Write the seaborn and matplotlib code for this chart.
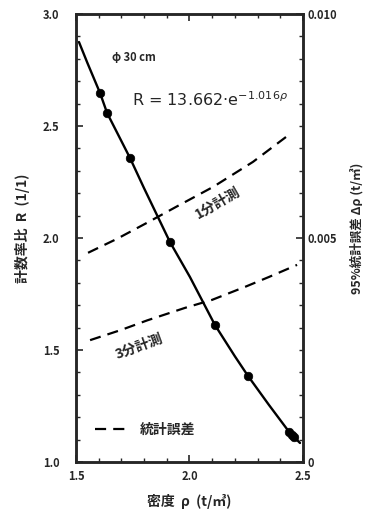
import numpy as np
import pandas as pd
import seaborn as sns
import matplotlib.pyplot as plt
from matplotlib.ticker import MultipleLocator
from matplotlib.lines import Line2D

# measured points: density rho (t/m3) vs count-rate ratio R
rho_pts = [1.606, 1.637, 1.738, 1.914, 2.112, 2.258, 2.44, 2.45, 2.46]
r_pts = [2.647, 2.558, 2.357, 1.982, 1.612, 1.384, 1.135, 1.12, 1.11]

# fitted curve R = 13.662 e^{-1.016 rho}
rho_fit = [1.513, 1.55, 1.606, 1.637, 1.738, 1.80, 1.914, 2.002, 2.112, 2.20, 2.258, 2.35, 2.443, 2.487]
r_fit = [2.875, 2.782, 2.647, 2.558, 2.357, 2.222, 1.982, 1.826, 1.612, 1.472, 1.384, 1.255, 1.129, 1.085]

# 95% statistical error (right axis)
rho_err1 = [1.553, 1.68, 1.813, 1.95, 2.104, 2.28, 2.445]
err_1min = [0.00467, 0.00498, 0.00534, 0.00572, 0.00614, 0.00670, 0.00733]
rho_err3 = [1.562, 1.70, 1.813, 1.98, 2.10, 2.25, 2.35, 2.474]
err_3min = [0.00272, 0.00295, 0.00316, 0.00344, 0.00362, 0.00392, 0.00413, 0.00440]

x_ticks = [1.5, 2.0, 2.5]
y_ticks = [1.0, 1.5, 2.0, 2.5, 3.0]
y2_ticks = [0, 0.005, 0.010]
y2_labels = ['0', '0.005', '0.010']

sns.set_style('ticks')
plt.rcParams['font.family'] = ['Noto Sans CJK JP', 'DejaVu Sans']
plt.rcParams['mathtext.fontset'] = 'dejavusans'

fig = plt.figure(figsize=(3.69, 5.13), dpi=100)
ax = fig.add_axes([0.206, 0.0994, 0.615, 0.8733])
ax2 = ax.twinx()

df_fit = pd.DataFrame({'rho': rho_fit, 'R': r_fit})
df_pts = pd.DataFrame({'rho': rho_pts, 'R': r_pts})
sns.lineplot(data=df_fit, x='rho', y='R', ax=ax, color='black', lw=1.7, sort=False)
sns.scatterplot(data=df_pts, x='rho', y='R', ax=ax, color='black', s=38, edgecolor='black', zorder=5)

df1 = pd.DataFrame({'rho': rho_err1, 'err': err_1min})
df3 = pd.DataFrame({'rho': rho_err3, 'err': err_3min})
for d in (df1, df3):
    sns.lineplot(data=d, x='rho', y='err', ax=ax2, color='black', lw=1.6,
                 linestyle=(0, (5, 3.2)))

ax.set_xlim(1.5, 2.5)
ax.set_ylim(1.0, 3.0)
ax2.set_ylim(0, 0.010)

ax.set_xticks(x_ticks)
ax.set_xticklabels([f'{v:.1f}' for v in x_ticks], fontweight='bold')
ax.set_yticks(y_ticks)
ax.set_yticklabels([f'{v:.1f}' for v in y_ticks], fontweight='bold')
ax.xaxis.set_minor_locator(MultipleLocator(0.1))
ax.yaxis.set_minor_locator(MultipleLocator(0.1))
ax2.set_yticks(y2_ticks)
ax2.set_yticklabels(y2_labels, fontweight='bold')
ax2.yaxis.set_minor_locator(MultipleLocator(0.0005))

ax.tick_params(axis='both', which='both', direction='in', top=True, labelsize=8)
ax.tick_params(axis='y', which='both', right=False, pad=12)
ax.tick_params(axis='x', which='both', pad=6)
ax.tick_params(which='major', length=5, width=1.2)
ax.tick_params(which='minor', length=3, width=1.0)
ax2.tick_params(axis='y', which='both', direction='in', labelsize=8, pad=3)
ax2.tick_params(which='major', length=5, width=1.2)
ax2.tick_params(which='minor', length=3, width=1.0)

for a in (ax, ax2):
    for s in a.spines.values():
        s.set_linewidth(1.8)
        s.set_visible(True)

ax.set_xlabel('密度  ρ  (t/㎥)', fontsize=10, labelpad=8, fontweight='bold')
ax.set_ylabel('')
ax2.set_ylabel('')
fig.text(0.06, 0.555, '計数率比  R  (1/1)', rotation=90, fontsize=10,
         ha='center', va='center', fontweight='bold')
fig.text(0.968, 0.555, '95%統計誤差 Δρ (t/㎥)', rotation=90, fontsize=9,
         ha='center', va='center', fontweight='bold')

ax.text(1.659, 2.808, 'φ 30 cm', fontsize=8, fontweight='bold', va='center')
ax.text(1.747, 2.616, r'R = 13.662$\cdot$e$^{-1.016\rho}$', fontsize=11.5,
        family='DejaVu Sans', va='center')
ax.text(2.126, 2.156, '1分計測', fontsize=10, rotation=30, ha='center', va='center',
        fontweight='bold')
ax.text(1.778, 1.513, '3分計測', fontsize=10, rotation=20, ha='center', va='center',
        fontweight='bold')

handle = Line2D([], [], color='black', lw=1.6, linestyle=(0, (5, 3.2)))
ax.legend([handle], ['統計誤差'], loc='center left', bbox_to_anchor=(0.084, 0.071),
          frameon=False, prop={'size': 10, 'weight': 'bold'}, handlelength=2.4,
          handletextpad=0.85, borderpad=0, borderaxespad=0)

fig.savefig('out.png', dpi=100)
